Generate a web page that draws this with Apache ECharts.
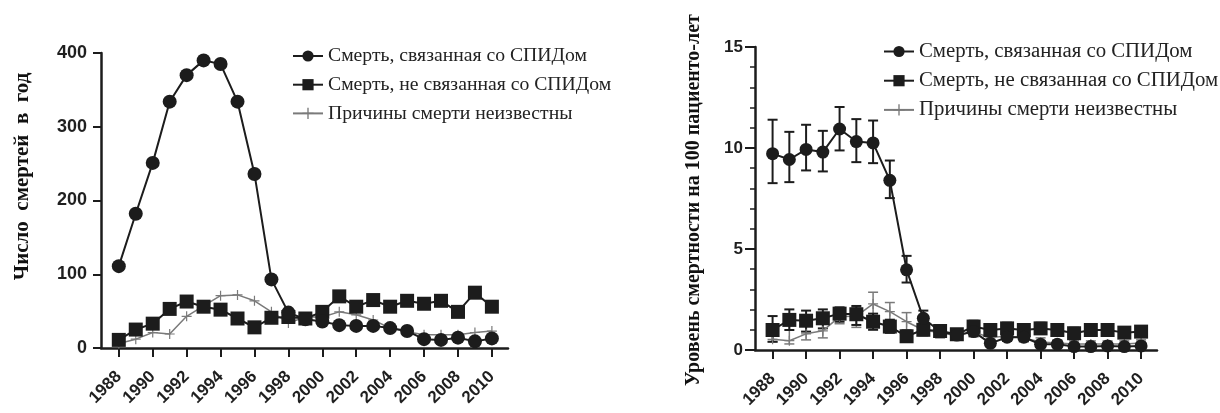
<!DOCTYPE html>
<html>
<head>
<meta charset="utf-8">
<script src="https://cdn.jsdelivr.net/npm/echarts@6/dist/echarts.min.js"></script>
<style>html,body{margin:0;padding:0;background:#fff}#c{width:1220px;height:413px}</style>
</head>
<body>
<div id="c"></div>
<script>
const years = [1988,1989,1990,1991,1992,1993,1994,1995,1996,1997,1998,1999,2000,2001,2002,2003,2004,2005,2006,2007,2008,2009,2010];
const yearTicks = [1988,1990,1992,1994,1996,1998,2000,2002,2004,2006,2008,2010];
const seriesNames = ['Смерть, связанная со СПИДом','Смерть, не связанная со СПИДом','Причины смерти неизвестны'];

// Left: number of deaths per year
const countAids    = [111,182,251,334,370,390,385,334,236,93,48,39,36,31,30,30,27,23,12,11,14,9,13];
const countNonAids = [11,25,33,53,63,56,52,40,28,41,42,40,49,70,56,65,56,64,60,64,49,75,56];
const countUnknown = [6,12,21,19,43,57,71,72,64,49,34,42,42,49,45,38,27,22,18,18,18,21,23];

// Right: mortality rate per 100 patient-years, with error bars
const rateAids     = [9.72,9.43,9.93,9.8,10.94,10.32,10.25,8.4,3.97,1.57,0.92,0.74,0.91,0.33,0.63,0.63,0.28,0.28,0.17,0.17,0.2,0.17,0.2];
const rateAidsHi   = [11.4,10.8,11.15,10.85,12.03,11.43,11.36,9.38,4.66,1.95,1.15,0.95,1.15,0.5,0.85,0.85,0.45,0.45,0.3,0.3,0.35,0.3,0.35];
const rateAidsLo   = [8.26,8.31,8.89,8.84,9.88,9.3,9.25,7.52,3.34,1.16,0.72,0.55,0.7,0.2,0.45,0.45,0.15,0.15,0.08,0.08,0.1,0.08,0.1];
const rateNon      = [0.99,1.49,1.45,1.57,1.8,1.77,1.4,1.16,0.68,1.0,0.94,0.78,1.16,0.99,1.07,0.99,1.07,0.99,0.83,0.99,0.99,0.86,0.91];
const rateNonHi    = [1.68,2.01,1.95,2.01,2.11,2.18,1.8,1.5,0.95,1.3,1.2,1.0,1.45,1.25,1.35,1.25,1.35,1.25,1.1,1.25,1.25,1.1,1.15];
const rateNonLo    = [0.41,0.99,0.91,1.07,1.4,1.24,1.0,0.85,0.45,0.75,0.7,0.55,0.9,0.75,0.8,0.75,0.8,0.75,0.6,0.75,0.75,0.6,0.65];
const rateUnk      = [0.53,0.46,0.8,0.95,1.65,1.68,2.28,1.9,1.4,0.99,0.85,0.7,0.9,0.6,0.7,0.6,0.4,0.35,0.3,0.3,0.3,0.3,0.35];
const rateUnkHi    = [1.1,1.3,1.35,1.3,2.0,2.1,2.86,2.35,1.85,1.3,1.1,0.9,1.15,0.8,0.9,0.8,0.6,0.5,0.45,0.45,0.45,0.45,0.5];
const rateUnkLo    = [0.4,0.3,0.5,0.6,1.3,1.12,1.6,1.45,1.0,0.7,0.6,0.5,0.65,0.4,0.5,0.4,0.25,0.2,0.15,0.15,0.15,0.15,0.2];

const BLACK = '#1c1c1c';
const GREY = '#7a7a7a';
const PLUS = 'path://M0,4.4H10V5.6H0Z M4.4,0H5.6V10H4.4Z';

const pairs = (vals) => years.map((y, i) => [y, vals[i]]);
const errPairs = (lo, hi) => years.map((y, i) => [y, lo[i], hi[i]]);

function errRender(color, lw) {
  return function (params, api) {
    const p1 = api.coord([api.value(0), api.value(1)]);
    const p2 = api.coord([api.value(0), api.value(2)]);
    const hw = 5;
    const st = { stroke: color, lineWidth: lw };
    return {
      type: 'group',
      children: [
        { type: 'line', shape: { x1: p1[0], y1: p1[1], x2: p2[0], y2: p2[1] }, style: st },
        { type: 'line', shape: { x1: p1[0] - hw, y1: p1[1], x2: p1[0] + hw, y2: p1[1] }, style: st },
        { type: 'line', shape: { x1: p2[0] - hw, y1: p2[1], x2: p2[0] + hw, y2: p2[1] }, style: st }
      ]
    };
  };
}

const tickFont = { fontFamily: 'Liberation Sans', fontWeight: 'bold', color: '#1f1f1f' };

function xAxisCfg(gridIndex) {
  return {
    type: 'value', gridIndex,
    min: 1986.95, max: 2010.95,
    axisLine: { show: true, lineStyle: { color: BLACK, width: 2.5 } },
    axisTick: { show: true, customValues: yearTicks, length: 9, lineStyle: { color: BLACK, width: 2 } },
    axisLabel: { customValues: yearTicks, rotate: 45, margin: 26, fontSize: 17, formatter: (v) => String(v), ...tickFont },
    splitLine: { show: false }
  };
}

function lineSeries(name, data, xi, symbol, size, color, lw, z) {
  return {
    name, type: 'line', xAxisIndex: xi, yAxisIndex: xi, data,
    symbol, symbolSize: size, showSymbol: true,
    lineStyle: { color, width: lw },
    itemStyle: { color },
    z, animation: false
  };
}

const chart = echarts.init(document.getElementById('c'), null, { renderer: 'canvas' });
chart.setOption({
  animation: false,
  grid: [
    { left: 101, top: 53, width: 407, height: 295 },
    { left: 755, top: 47, width: 402, height: 303 }
  ],
  xAxis: [xAxisCfg(0), xAxisCfg(1)],
  yAxis: [
    {
      type: 'value', gridIndex: 0, min: 0, max: 400, interval: 100,
      name: 'Число  смертей  в  год', nameLocation: 'middle', nameGap: 68,
      nameTextStyle: { fontFamily: 'Liberation Serif', fontWeight: 'bold', fontSize: 21, color: '#111', padding: [0, 0, 0, 48] },
      axisLine: { show: true, lineStyle: { color: BLACK, width: 2.5 } },
      axisTick: { show: true, length: 8, lineStyle: { color: BLACK, width: 2 } },
      axisLabel: { margin: 14, fontSize: 18, ...tickFont },
      splitLine: { show: false }
    },
    {
      type: 'value', gridIndex: 1, min: 0, max: 15, interval: 5,
      name: 'Уровень смертности на 100 пациенто-лет', nameLocation: 'middle', nameGap: 51,
      nameTextStyle: { fontFamily: 'Liberation Serif', fontWeight: 'bold', fontSize: 20, color: '#111', padding: [0, 3, 0, 0] },
      axisLine: { show: true, lineStyle: { color: BLACK, width: 2.5 } },
      axisTick: { show: true, length: 10, lineStyle: { color: BLACK, width: 2 } },
      minorTick: { show: true, splitNumber: 5, length: 5, lineStyle: { color: BLACK, width: 1.5 } },
      axisLabel: { margin: 12, fontSize: 17, ...tickFont },
      splitLine: { show: false }
    }
  ],
  legend: [
    {
      orient: 'vertical', left: 287, top: 41, itemWidth: 30, itemHeight: 14, itemGap: 8.7,
      data: seriesNames,
      textStyle: { fontFamily: 'Liberation Serif', fontSize: 19.7, color: '#222' }
    },
    {
      orient: 'vertical', left: 878, top: 36, itemWidth: 30, itemHeight: 14, itemGap: 8.2,
      data: seriesNames,
      textStyle: { fontFamily: 'Liberation Serif', fontSize: 20.8, color: '#222' }
    }
  ],
  series: [
    lineSeries(seriesNames[2], pairs(countUnknown), 0, PLUS, 10, GREY, 1.5, 2),
    lineSeries(seriesNames[1], pairs(countNonAids), 0, 'rect', 14, BLACK, 2, 3),
    lineSeries(seriesNames[0], pairs(countAids), 0, 'circle', 14, BLACK, 2, 4),

    { name: 'err-unk', type: 'custom', xAxisIndex: 1, yAxisIndex: 1, data: errPairs(rateUnkLo, rateUnkHi), renderItem: errRender(GREY, 1.5), z: 1 },
    { name: 'err-non', type: 'custom', xAxisIndex: 1, yAxisIndex: 1, data: errPairs(rateNonLo, rateNonHi), renderItem: errRender(BLACK, 2), z: 1 },
    { name: 'err-aids', type: 'custom', xAxisIndex: 1, yAxisIndex: 1, data: errPairs(rateAidsLo, rateAidsHi), renderItem: errRender(BLACK, 2), z: 1 },
    lineSeries(seriesNames[2], pairs(rateUnk), 1, PLUS, 10, GREY, 1.5, 2),
    lineSeries(seriesNames[1], pairs(rateNon), 1, 'rect', 14, BLACK, 2, 3),
    lineSeries(seriesNames[0], pairs(rateAids), 1, 'circle', 13, BLACK, 2, 4)
  ]
});
</script>
</body>
</html>
